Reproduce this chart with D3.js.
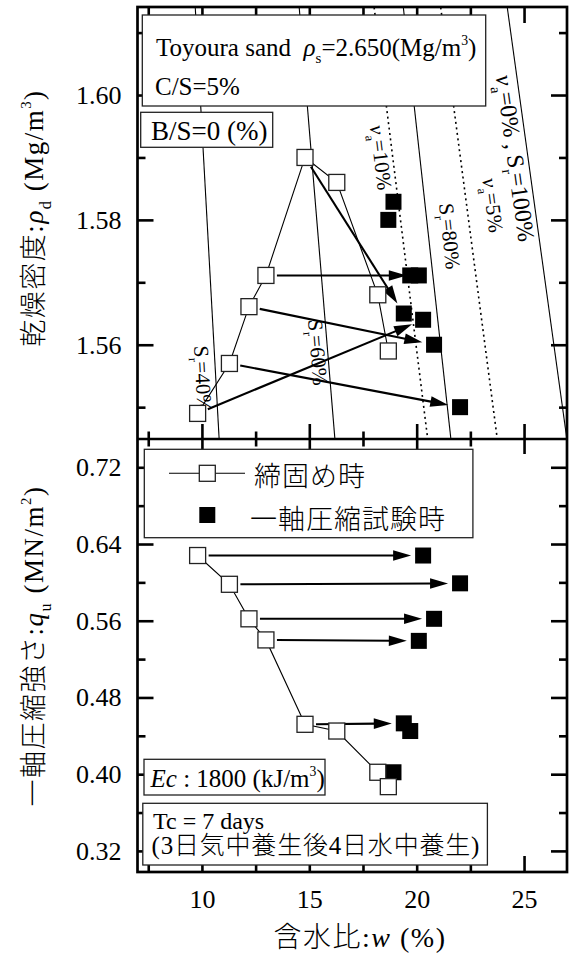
<!DOCTYPE html>
<html><head><meta charset="utf-8">
<script src="https://cdn.jsdelivr.net/npm/d3@7"></script>
<style>html,body{margin:0;padding:0;background:#fff;} svg{display:block;}</style>
</head><body>
<svg id="chart" width="569" height="957"></svg>
<script>
// ---- specimens, ordered by water content at compaction ----
const wCompaction   = [9.80, 11.28, 12.19, 12.98, 14.80, 16.28, 18.19, 18.68];   // w (%)
const rhoCompaction = [1.5490, 1.5570, 1.5661, 1.5711, 1.5900, 1.5860, 1.5680, 1.5590]; // ρd (Mg/m3)
const quCompaction  = [0.628, 0.598, 0.562, 0.540, 0.452, 0.445, 0.402, 0.387]; // qu (MN/m2)
// same specimens at the unconfined compression test
const wTest   = [20.30, 22.02, 20.81, 20.10, 19.40, 19.70, 18.92, 18.68];
const rhoTest = [1.5640, 1.5500, 1.5600, 1.5711, 1.5650, 1.5711, 1.5829, 1.5800];
const quTest  = [0.628, 0.599, 0.562, 0.539, 0.453, 0.445, 0.402, 0.387];
// specimens joined by an arrow (compaction -> test)
const arrowsTop    = [0, 1, 2, 3, 4];
const arrowsBottom = [0, 1, 2, 3, 4];

// saturation / air-void reference lines: w (%) at ρd = 1.614 and ρd = 1.545
const refNames   = ['Sr40', 'Sr60', 'Sr80', 'Sr100', 'va10', 'va5'];
const refWAtHigh = [9.69, 14.53, 19.38, 24.22, 18.02, 21.12];
const refWAtLow  = [10.80, 16.19, 21.59, 26.99, 20.51, 23.75];
const refDotted  = [false, false, false, false, true, true];
const refRhoHigh = 1.614, refRhoLow = 1.545;

// axis ticks
const xMajor = [10, 15, 20, 25], xMinor = [7.5, 12.5, 17.5, 22.5];
const rhoMajor = [1.56, 1.58, 1.60], rhoMinor = [1.55, 1.57, 1.59, 1.61];
const quMajor = [0.32, 0.40, 0.48, 0.56, 0.64, 0.72], quMinor = [0.36, 0.44, 0.52, 0.60, 0.68];

// ---- layout ----
const X0 = 137.5, X1 = 567, Y0 = 7, YM = 439, Y1 = 872;
const SERIF = '"Liberation Serif","Times New Roman","Noto Sans CJK JP",serif';
const NB = '\u00a0';
const svg = d3.select('#chart').attr('font-family', SERIF).attr('font-weight', 300);

const x = d3.scaleLinear().domain([7, 27]).range([X0, X1]);
const yTop = d3.scaleLinear().domain([1.5449, 1.6141]).range([YM, Y0]);
const yBot = d3.scaleLinear().domain([0.298, 0.7495]).range([Y1, YM]);

svg.append('defs').append('clipPath').attr('id', 'clipTop')
  .append('rect').attr('x', X0).attr('y', Y0).attr('width', X1 - X0).attr('height', YM - Y0);

// rich text: parts with optional italic / subscript / superscript
function rich(sel, parts, size) {
  let shift = 0;
  for (const p of parts) {
    let off = 0, fs = size;
    if (p.sub) { off = size * 0.28; fs = size * 0.6; }
    else if (p.sup) { off = -size * 0.45; fs = size * 0.55; }
    const t = sel.append('tspan').text(p.t).attr('font-size', fs);
    if (off - shift !== 0) t.attr('dy', off - shift);
    if (p.it) t.attr('font-style', 'italic');
    shift = off;
  }
  return sel;
}

// ---- axes (inward ticks on every side) ----
function axis(gen, tx, ty, values, len, fmt, pad) {
  const g = svg.append('g').attr('transform', `translate(${tx},${ty})`)
    .call(gen.tickValues(values).tickSize(-len).tickPadding(pad || 0)
      .tickFormat(fmt || (() => '')));
  g.select('.domain').remove();
  g.selectAll('line').attr('stroke', '#000').attr('stroke-width', 2.6);
  g.attr('font-family', SERIF).attr('font-size', 26);
  g.selectAll('text').attr('fill', '#000');
  return g;
}
const f2 = d3.format('.2f');
// top panel
axis(d3.axisLeft(yTop), X0, 0, rhoMajor, 16, f2, 16);
axis(d3.axisLeft(yTop), X0, 0, rhoMinor, 8);
axis(d3.axisRight(yTop), X1, 0, rhoMajor, 16);
axis(d3.axisRight(yTop), X1, 0, rhoMinor, 8);
axis(d3.axisTop(x), 0, Y0, xMajor, 16);
axis(d3.axisTop(x), 0, Y0, xMinor, 8);
axis(d3.axisBottom(x), 0, YM, xMajor, 15);
axis(d3.axisBottom(x), 0, YM, xMinor, 7.5);
// bottom panel
axis(d3.axisLeft(yBot), X0, 0, quMajor, 16, f2, 16);
axis(d3.axisLeft(yBot), X0, 0, quMinor, 8);
axis(d3.axisRight(yBot), X1, 0, quMajor, 16);
axis(d3.axisRight(yBot), X1, 0, quMinor, 8);
axis(d3.axisTop(x), 0, YM, xMajor, 15);
axis(d3.axisTop(x), 0, YM, xMinor, 7.5);
axis(d3.axisBottom(x), 0, Y1, xMajor, 16, d3.format('d'), 17.5);
axis(d3.axisBottom(x), 0, Y1, xMinor, 8);

// ---- reference lines in the ρd panel ----
const refG = svg.append('g').attr('clip-path', 'url(#clipTop)');
const refPix = refNames.map((n, i) => {
  const xa = x(refWAtHigh[i]), ya = yTop(refRhoHigh);
  const xb = x(refWAtLow[i]), yb = yTop(refRhoLow);
  const k = (xb - xa) / (yb - ya);
  return { xa, ya, xb, yb, k, atY: yy => xa + (yy - ya) * k };
});
refPix.forEach((p, i) => {
  refG.append('line')
    .attr('x1', p.atY(Y0 - 5)).attr('y1', Y0 - 5)
    .attr('x2', p.atY(YM + 5)).attr('y2', YM + 5)
    .attr('stroke', '#000')
    .attr('stroke-width', refDotted[i] ? 1.6 : 1.1)
    .attr('stroke-dasharray', refDotted[i] ? '2,3.5' : null);
});

// labels along the reference lines
const refLabels = [
  { i: 0, y: 346, dx: -20, size: 21, parts: [{t:'S'},{t:'r',sub:1},{t:'=40%'}] },
  { i: 1, y: 320, dx: -17, size: 21, parts: [{t:'S'},{t:'r',sub:1},{t:'=60%'}] },
  { i: 2, y: 204, dx: 14,  size: 21, parts: [{t:'S'},{t:'r',sub:1},{t:'=80%'}] },
  { i: 3, y: 76,  dx: -21, size: 24, parts: [{t:'ν',it:1},{t:'a',sub:1},{t:'=0%' + NB + ',' + NB + 'S'},{t:'r',sub:1},{t:'=100%'}] },
  { i: 4, y: 126, dx: -19, size: 21, parts: [{t:'ν',it:1},{t:'a',sub:1},{t:'=10%'}] },
  { i: 5, y: 179, dx: 19,  size: 21, parts: [{t:'ν',it:1},{t:'a',sub:1},{t:'=5%'}] }
];
refLabels.forEach(l => {
  const p = refPix[l.i];
  const ang = Math.atan2(1, p.k) * 180 / Math.PI;
  const t = svg.append('text')
    .attr('transform', `translate(${p.atY(l.y) + l.dx},${l.y}) rotate(${ang})`)
    .attr('font-size', l.size).attr('fill', '#000');
  rich(t, l.parts, l.size);
});

// ---- marks ----
const SQ = 16;
function arrow(g, xa, ya, xb, yb) {
  const dx = xb - xa, dy = yb - ya, L = Math.hypot(dx, dy), ux = dx / L, uy = dy / L;
  const sx = xa + ux * 11, sy = ya + uy * 11;
  const tx = xb - ux * 12, ty = yb - uy * 12;
  const hl = 18, hw = 5.3;
  const bx = tx - ux * hl, by = ty - uy * hl;
  g.append('line').attr('x1', sx).attr('y1', sy).attr('x2', bx + ux * 3).attr('y2', by + uy * 3)
    .attr('stroke', '#000').attr('stroke-width', 2.1);
  g.append('path')
    .attr('d', `M${tx},${ty}L${bx - uy * hw},${by + ux * hw}L${bx + uy * hw},${by - ux * hw}Z`)
    .attr('fill', '#000');
}

function panel(yScale, yComp, yTestVals, arrowIdx) {
  const g = svg.append('g');
  const idx = d3.range(wCompaction.length);
  g.append('path')
    .attr('d', d3.line().x(i => x(wCompaction[i])).y(i => yScale(yComp[i]))(idx))
    .attr('fill', 'none').attr('stroke', '#000').attr('stroke-width', 1.1);
  arrowIdx.forEach(i => arrow(g, x(wCompaction[i]), yScale(yComp[i]), x(wTest[i]), yScale(yTestVals[i])));
  g.selectAll('rect.test').data(idx).join('rect').attr('class', 'test')
    .attr('x', i => x(wTest[i]) - SQ / 2).attr('y', i => yScale(yTestVals[i]) - SQ / 2)
    .attr('width', SQ).attr('height', SQ).attr('fill', '#000');
  g.selectAll('rect.comp').data(idx).join('rect').attr('class', 'comp')
    .attr('x', i => x(wCompaction[i]) - SQ / 2).attr('y', i => yScale(yComp[i]) - SQ / 2)
    .attr('width', SQ).attr('height', SQ).attr('fill', '#fff')
    .attr('stroke', '#222').attr('stroke-width', 1.3);
}
panel(yTop, rhoCompaction, rhoTest, arrowsTop);
panel(yBot, quCompaction, quTest, arrowsBottom);

// ---- annotation boxes ----
function box(x0, y0, x1, y1) {
  svg.append('rect').attr('x', x0).attr('y', y0).attr('width', x1 - x0).attr('height', y1 - y0)
    .attr('fill', '#fff').attr('stroke', '#222').attr('stroke-width', 1.3);
}
function label(xp, yp, size, parts, spacing) {
  const t = svg.append('text').attr('x', xp).attr('y', yp).attr('font-size', size).attr('fill', '#000');
  if (spacing) t.attr('letter-spacing', spacing);
  return rich(t, parts, size);
}

box(142.3, 15, 485.7, 106);
label(156, 56, 25, [{t:'Toyoura sand' + NB + NB},{t:'ρ',it:1},{t:'s',sub:1},{t:'=2.650(Mg/m'},{t:'3',sup:1},{t:')'}]);
label(155, 95, 25, [{t:'C/S=5%'}]);

box(140.7, 112.3, 272.7, 147.3);
label(151, 140, 27, [{t:'B/S=0 (%)'}]);

// legend
box(144.3, 449.3, 472.9, 537.7);
svg.append('line').attr('x1', 169).attr('x2', 245).attr('y1', 473.3).attr('y2', 473.3)
  .attr('stroke', '#000').attr('stroke-width', 1.1);
svg.append('rect').attr('x', 207.3 - SQ / 2).attr('y', 473.3 - SQ / 2).attr('width', SQ).attr('height', SQ)
  .attr('fill', '#fff').attr('stroke', '#222').attr('stroke-width', 1.3);
svg.append('rect').attr('x', 207.3 - SQ / 2).attr('y', 515 - SQ / 2).attr('width', SQ).attr('height', SQ)
  .attr('fill', '#000');
label(254, 486, 27, [{t:'締固め時'}], 1);
label(250, 529, 27, [{t:'一軸圧縮試験時'}], 1);

box(144, 759.3, 325, 795);
label(150.5, 787, 25, [{t:'Ec',it:1},{t:' : 1800 (kJ/m'},{t:'3',sup:1},{t:')'}]);

box(142.8, 803.3, 487.4, 865);
label(153, 829, 24, [{t:'Tc = 7 days'}]);
label(151.5, 854, 25, [{t:'(3日気中養生後4日水中養生)'}], 0.8);

// ---- frame ----
svg.append('rect').attr('x', X0).attr('y', Y0).attr('width', X1 - X0).attr('height', Y1 - Y0)
  .attr('fill', 'none').attr('stroke', '#000').attr('stroke-width', 2.7);
svg.append('line').attr('x1', X0).attr('x2', X1).attr('y1', YM).attr('y2', YM)
  .attr('stroke', '#000').attr('stroke-width', 2.7);

// ---- axis titles ----
function title(transform, parts, size, spacing) {
  const t = svg.append('text').attr('transform', transform).attr('text-anchor', 'middle')
    .attr('font-size', size).attr('letter-spacing', spacing).attr('fill', '#000');
  return rich(t, parts, size);
}
title('translate(360,947)', [{t:'含水比:'},{t:'w',it:1},{t:' (%)'}], 28, 1.5);
title('translate(43,218) rotate(-90)',
  [{t:'乾燥密度:'},{t:'ρ',it:1},{t:'d',sub:1},{t:' (Mg/m'},{t:'3',sup:1},{t:')'}], 27, 1.5);
title('translate(43,646) rotate(-90)',
  [{t:'一軸圧縮強さ:'},{t:'q',it:1},{t:'u',sub:1},{t:' (MN/m'},{t:'2',sup:1},{t:')'}], 27, 1.5);
</script>
</body></html>
